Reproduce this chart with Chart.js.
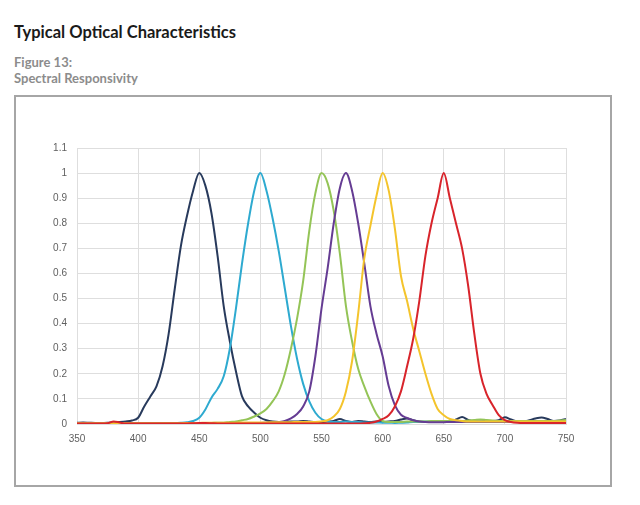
<!DOCTYPE html>
<html>
<head>
<meta charset="utf-8">
<script src="https://cdn.jsdelivr.net/npm/chart.js@4/dist/chart.umd.min.js"></script>
<style>
    html, body { margin: 0; padding: 0; background: #fff; }
    body { width: 640px; height: 505px; position: relative; overflow: hidden; font-family: Lato, "Open Sans", sans-serif; }
    .title { position: absolute; left: 14px; top: 23px; font-size: 16.5px; line-height: 18px; font-weight: bold; color: #1a1a1a; }
    .sub { position: absolute; left: 14px; font-size: 13px; line-height: 15px; font-weight: bold; color: #8c8c8c; }
    .box { position: absolute; left: 14px; top: 95px; width: 594px; height: 388px; border: 2px solid #a6a6a6; }
    .box canvas { position: absolute; left: 0; top: 0; }
</style>
</head>
<body>
<div class="title">Typical Optical Characteristics</div>
<div class="sub" style="top:55px">Figure 13:</div>
<div class="sub" style="top:71px">Spectral Responsivity</div>
<div class="box"><canvas id="specChart" width="594" height="388"></canvas></div>

<script>
// Spectral responsivity - wavelengths in nm
const wavelengths = [
    350, 355, 360, 365, 370, 375, 380, 385, 390, 395,
    400, 405, 410, 415, 420, 425, 430, 435, 440, 445,
    450, 455, 460, 465, 470, 475, 480, 485, 490, 495,
    500, 505, 510, 515, 520, 525, 530, 535, 540, 545,
    550, 555, 560, 565, 570, 575, 580, 585, 590, 595,
    600, 605, 610, 615, 620, 625, 630, 635, 640, 645,
    650, 655, 660, 665, 670, 675, 680, 685, 690, 695,
    700, 705, 710, 715, 720, 725, 730, 735, 740, 745,
    750
];

const ch450 = [
    0.005, 0.006, 0.005, 0.004, 0.004, 0.005, 0.007, 0.008, 0.01, 0.014,
    0.025, 0.07, 0.11, 0.15, 0.23, 0.36, 0.54, 0.71, 0.83, 0.93,
    1.0, 0.95, 0.84, 0.67, 0.47, 0.33, 0.21, 0.11, 0.07, 0.045,
    0.025, 0.015, 0.01, 0.008, 0.008, 0.01, 0.01, 0.012, 0.01, 0.008,
    0.008, 0.01, 0.012, 0.02, 0.012, 0.008, 0.012, 0.01, 0.008, 0.01,
    0.008, 0.01, 0.012, 0.018, 0.022, 0.015, 0.01, 0.008, 0.008, 0.01,
    0.012, 0.012, 0.018, 0.028, 0.016, 0.01, 0.01, 0.012, 0.012, 0.015,
    0.027, 0.018, 0.01, 0.01, 0.015, 0.022, 0.026, 0.02, 0.012, 0.014,
    0.02
];

const ch500 = [
    0.004, 0.004, 0.003, 0.003, 0.003, 0.003, 0.003, 0.003, 0.003, 0.003,
    0.003, 0.003, 0.003, 0.003, 0.003, 0.004, 0.004, 0.005, 0.007, 0.012,
    0.025, 0.058, 0.105, 0.14, 0.19, 0.3, 0.46, 0.64, 0.8, 0.93,
    1.0, 0.93, 0.82, 0.69, 0.54, 0.39, 0.26, 0.16, 0.09, 0.045,
    0.02, 0.01, 0.008, 0.008, 0.01, 0.008, 0.008, 0.006, 0.006, 0.006,
    0.005, 0.005, 0.004, 0.005, 0.006, 0.008, 0.008, 0.01, 0.01, 0.01,
    0.01, 0.01, 0.012, 0.012, 0.01, 0.01, 0.01, 0.01, 0.01, 0.01,
    0.01, 0.01, 0.01, 0.01, 0.012, 0.012, 0.012, 0.012, 0.012, 0.012,
    0.012
];

const ch550 = [
    0.002, 0.002, 0.002, 0.002, 0.002, 0.002, 0.002, 0.002, 0.002, 0.002,
    0.002, 0.002, 0.002, 0.002, 0.002, 0.003, 0.003, 0.003, 0.003, 0.003,
    0.004, 0.004, 0.004, 0.005, 0.005, 0.008, 0.01, 0.015, 0.02, 0.03,
    0.042, 0.06, 0.09, 0.13, 0.2, 0.3, 0.42, 0.57, 0.77, 0.92,
    1.0, 0.96, 0.85, 0.68, 0.47, 0.33, 0.22, 0.15, 0.09, 0.04,
    0.012, 0.008, 0.008, 0.008, 0.01, 0.01, 0.01, 0.01, 0.012, 0.012,
    0.012, 0.012, 0.012, 0.012, 0.014, 0.016, 0.018, 0.016, 0.014, 0.012,
    0.012, 0.012, 0.012, 0.012, 0.012, 0.012, 0.012, 0.012, 0.012, 0.014,
    0.016
];

const ch570 = [
    0.002, 0.002, 0.002, 0.002, 0.002, 0.002, 0.002, 0.002, 0.002, 0.002,
    0.002, 0.002, 0.002, 0.002, 0.002, 0.002, 0.002, 0.002, 0.002, 0.002,
    0.003, 0.003, 0.003, 0.003, 0.003, 0.003, 0.003, 0.003, 0.004, 0.004,
    0.004, 0.005, 0.006, 0.008, 0.012, 0.022, 0.04, 0.07, 0.13, 0.27,
    0.46, 0.62, 0.8, 0.94, 1.0, 0.93, 0.8, 0.64, 0.47, 0.36,
    0.27, 0.15, 0.075, 0.037, 0.024, 0.015, 0.01, 0.008, 0.007, 0.007,
    0.007, 0.008, 0.008, 0.008, 0.008, 0.008, 0.008, 0.008, 0.008, 0.008,
    0.008, 0.008, 0.008, 0.008, 0.008, 0.008, 0.008, 0.008, 0.008, 0.008,
    0.008
];

const ch600 = [
    0.003, 0.003, 0.003, 0.003, 0.003, 0.003, 0.003, 0.003, 0.003, 0.003,
    0.003, 0.003, 0.003, 0.003, 0.003, 0.003, 0.003, 0.003, 0.004, 0.004,
    0.004, 0.005, 0.005, 0.005, 0.005, 0.005, 0.005, 0.006, 0.006, 0.006,
    0.006, 0.006, 0.007, 0.007, 0.007, 0.007, 0.008, 0.008, 0.008, 0.008,
    0.01, 0.015, 0.03, 0.06, 0.13, 0.25, 0.44, 0.66, 0.79, 0.91,
    1.0, 0.93, 0.78, 0.59, 0.49, 0.38, 0.29, 0.2, 0.12, 0.06,
    0.035, 0.02, 0.015, 0.012, 0.01, 0.01, 0.01, 0.01, 0.01, 0.01,
    0.01, 0.01, 0.01, 0.01, 0.01, 0.01, 0.01, 0.01, 0.01, 0.01,
    0.01
];

const ch650 = [
    0.002, 0.002, 0.002, 0.002, 0.002, 0.003, 0.01, 0.006, 0.002, 0.002,
    0.002, 0.002, 0.002, 0.002, 0.002, 0.002, 0.002, 0.002, 0.002, 0.003,
    0.004, 0.004, 0.003, 0.002, 0.002, 0.002, 0.002, 0.002, 0.002, 0.002,
    0.002, 0.002, 0.002, 0.002, 0.002, 0.002, 0.002, 0.002, 0.002, 0.002,
    0.002, 0.002, 0.002, 0.002, 0.002, 0.002, 0.002, 0.003, 0.005, 0.01,
    0.02, 0.035, 0.07, 0.13, 0.23, 0.34, 0.49, 0.67, 0.8, 0.9,
    1.0, 0.9, 0.8, 0.7, 0.55, 0.36, 0.2, 0.12, 0.075, 0.035,
    0.015, 0.008, 0.005, 0.004, 0.004, 0.004, 0.004, 0.004, 0.004, 0.004,
    0.004
];

const yTicks = [0, 0.1, 0.2, 0.3, 0.4, 0.5, 0.6, 0.7, 0.8, 0.9, 1, 1.1];
const yTickLabels = ['0', '0.1', '0.2', '0.3', '0.4', '0.5', '0.6', '0.7', '0.8', '0.9', '1', '1.1'];
const xTicks = [350, 400, 450, 500, 550, 600, 650, 700, 750];

function series(values, color) {
    return {
        data: wavelengths.map((w, i) => ({ x: w, y: values[i] })),
        borderColor: color,
        borderWidth: 2,
        pointRadius: 0,
        fill: false,
        cubicInterpolationMode: 'monotone'
    };
}

new Chart(document.getElementById('specChart').getContext('2d'), {
    type: 'line',
    data: {
        datasets: [
            series(ch650, '#d8242b'),
            series(ch600, '#f4c42c'),
            series(ch570, '#653c93'),
            series(ch550, '#94c457'),
            series(ch500, '#2eaad0'),
            series(ch450, '#283a5c')
        ]
    },
    options: {
        responsive: false,
        animation: false,
        layout: { padding: { left: 31, right: 44, top: 51, bottom: 41 } },
        plugins: { legend: { display: false }, tooltip: { enabled: false } },
        scales: {
            x: {
                type: 'linear',
                min: 350,
                max: 750,
                afterBuildTicks: (axis) => { axis.ticks = xTicks.map(v => ({ value: v })); },
                afterFit: (axis) => { axis.height = 20; },
                grid: { color: '#dedede', drawTicks: false },
                border: { color: '#dedede' },
                ticks: { padding: 9, color: '#5f5f5f', font: { family: 'Liberation Sans', size: 10 } }
            },
            y: {
                min: 0,
                max: 1.1,
                afterBuildTicks: (axis) => { axis.ticks = yTicks.map(v => ({ value: v })); },
                afterFit: (axis) => { axis.width = 30; },
                grid: { color: '#dedede', drawTicks: false },
                border: { color: '#dedede' },
                ticks: {
                    padding: 10,
                    color: '#5f5f5f',
                    font: { family: 'Liberation Sans', size: 10 },
                    callback: (value, i) => yTickLabels[i]
                }
            }
        }
    }
});
</script>
</body>
</html>
